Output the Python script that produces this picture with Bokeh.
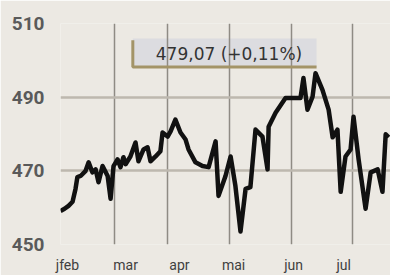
from bokeh.plotting import figure
from bokeh.models import FixedTicker, Label, BoxAnnotation
from bokeh.embed import file_html
from bokeh.resources import INLINE

# trading-day position of each point (x) and index level (y)
day = [0, 1.5, 3.0, 4.5, 5.6, 6.3, 7.5, 9.3, 10.5, 11.9, 13.1, 14.2, 15.7, 17.6, 18.7,
       19.8, 21.3, 22.4, 23.5, 24.3, 26.1, 28.0, 29.1, 31.0, 32.5, 33.6, 35.5, 37.3,
       38.1, 40.0, 41.1, 42.9, 44.8, 46.7, 47.8, 50.4, 53.0, 55.3, 57.9, 59.0, 61.6,
       63.5, 65.3, 67.2, 69.1, 70.9, 72.8, 75.4, 77.3, 77.7, 80.3, 84.0, 85.9, 89.6,
       90.7, 92.2, 94.1, 95.2, 97.8, 100.1, 101.6, 103.4, 104.6, 106.4, 108.3, 109.4,
       111.3, 113.9, 115.8, 118.4, 120.2, 121.4, 122.5]
level = [459.1, 459.7, 460.5, 461.6, 465.1, 468.3, 468.6, 469.9, 472.3, 469.6, 470.4,
         466.9, 471.3, 468.6, 462.4, 471.3, 473.1, 471.0, 473.7, 471.8, 473.9, 477.7,
         472.6, 475.8, 476.4, 472.6, 473.9, 475.3, 480.4, 479.3, 480.7, 483.9, 480.4,
         478.5, 475.8, 472.3, 471.3, 471.0, 478.0, 463.2, 468.6, 473.9, 465.9, 453.5,
         465.1, 465.6, 481.2, 479.3, 470.4, 482.0, 485.8, 489.8, 489.8, 489.8, 495.2,
         486.6, 490.1, 496.5, 492.0, 486.6, 479.1, 481.2, 464.3, 473.9, 475.8, 484.7,
         473.1, 459.7, 469.6, 470.4, 464.3, 479.9, 479.07]

month_pos = [0, 20.2, 40.0, 63.1, 86.3, 109.0]
label_pos = [2.6, 24.3, 44.4, 64.6, 87.0, 105.7]
month_labels = ["jfeb", "mar", "apr", "mai", "jun", "jul"]
y_ticks = [450, 470, 490, 510]

last_value = "479,07"
change_pct = "+0,11%"

BG = "#ece9e3"

p = figure(width=390, height=275, output_backend="svg", toolbar_location=None,
           x_range=(0, 123.2), y_range=(450, 510),
           min_border_left=60, min_border_right=0, min_border_top=23, min_border_bottom=29)
p.background_fill_color = BG
p.border_fill_color = BG
p.outline_line_color = None

p.xaxis.ticker = FixedTicker(ticks=label_pos)
p.xaxis.major_label_overrides = {m: l for m, l in zip(label_pos, month_labels)}
p.yaxis.ticker = FixedTicker(ticks=y_ticks)
for ax in (p.xaxis, p.yaxis):
    ax.axis_line_color = None
    ax.major_tick_line_color = None
    ax.minor_tick_line_color = None
    ax.major_label_text_font = "Roboto"
    ax.major_label_text_color = "#3f3f3f"
p.xaxis.major_label_text_font_size = "14px"
p.xaxis.major_label_standoff = 6
p.yaxis.major_label_text_font_size = "19px"
p.yaxis.major_label_text_font_style = "bold"
p.yaxis.major_label_text_color = "#5a5a5a"
p.yaxis.major_label_standoff = 10

p.xgrid.ticker = FixedTicker(ticks=month_pos)
p.xgrid.grid_line_color = "#8f8b84"
p.xgrid.grid_line_width = 1.5
p.ygrid.ticker = FixedTicker(ticks=y_ticks)
p.ygrid.grid_line_color = "#bdb8af"
p.ygrid.grid_line_width = 2.5

# annotation box with bracket (drawn beneath the grid)
box_l, box_r, box_t, box_b = 27.0, 95.6, 505.96, 498.2
p.add_layout(BoxAnnotation(left=box_l, right=box_r, top=box_t, bottom=box_b,
                           fill_color="#dcdce0", fill_alpha=1, line_color=None,
                           level="image"))
p.line([box_l, box_l, box_r], [box_t - 0.5, box_b, box_b], line_color="#a39468",
       line_width=3)
p.add_layout(Label(x=62.9, y=501.8,
                   text=f"{last_value} ({change_pct})", text_align="center",
                   text_baseline="middle", text_font="DejaVu Sans", text_font_size="17px",
                   text_color="#333333"))

p.line(day, level, line_color="#111111", line_width=4.5, line_join="round")

open("out.html", "w").write(file_html(p, INLINE))
